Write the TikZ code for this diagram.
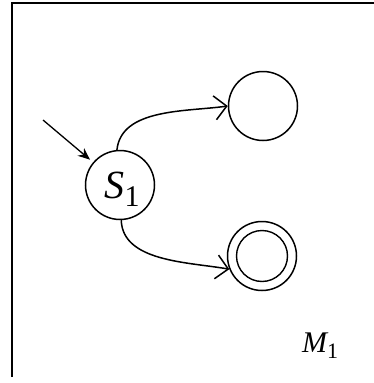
\documentclass[tikz,border=0pt]{standalone}
\usepackage{fontspec}
\setmainfont{Liberation Serif}
\usetikzlibrary{arrows.meta}
\begin{document}
\begin{tikzpicture}[x=1pt,y=-1pt,
  state/.style={circle,draw,line width=1.5pt,minimum size=69pt,inner sep=0pt},
  trans/.style={line width=1.5pt,-{Straight Barb[length=12pt,width=24pt,line width=1.5pt]}},
  startarr/.style={line width=1.3pt,-{Stealth[length=12pt,width=10pt]}},
  lbl/.style={inner sep=0pt}]
\useasboundingbox (0,0) rectangle (374,383);
\draw[line width=1.5pt] (12,377) -- (12,3) -- (374,3);
\node[state] (s1) at (120,185) {};
\node[lbl,anchor=base] (s1lbl) at (122,198) {\fontsize{40}{40}\selectfont\itshape S\raisebox{-8pt}{\fontsize{30}{30}\selectfont\upshape 1}};
\node[state] (q2) at (263,106) {};
\node[state] (q3) at (262,256) {};
\node[circle,draw,line width=1.4pt,minimum size=51pt,inner sep=0pt] (q3in) at (262,256) {};
\coordinate (init) at (43,120);
\draw[startarr,shorten >=4pt] (init) -- (s1);
\draw[trans] (s1.95) to[out=84,in=188,looseness=0.9] (q2.west);
\draw[trans] (s1.272) to[out=-88,in=170,looseness=0.9] (q3.202);
\node[lbl,anchor=base west] (m1) at (302,352) {\fontsize{30}{30}\selectfont\itshape M\raisebox{-6pt}{\fontsize{22}{22}\selectfont\upshape 1}};
\end{tikzpicture}
\end{document}
